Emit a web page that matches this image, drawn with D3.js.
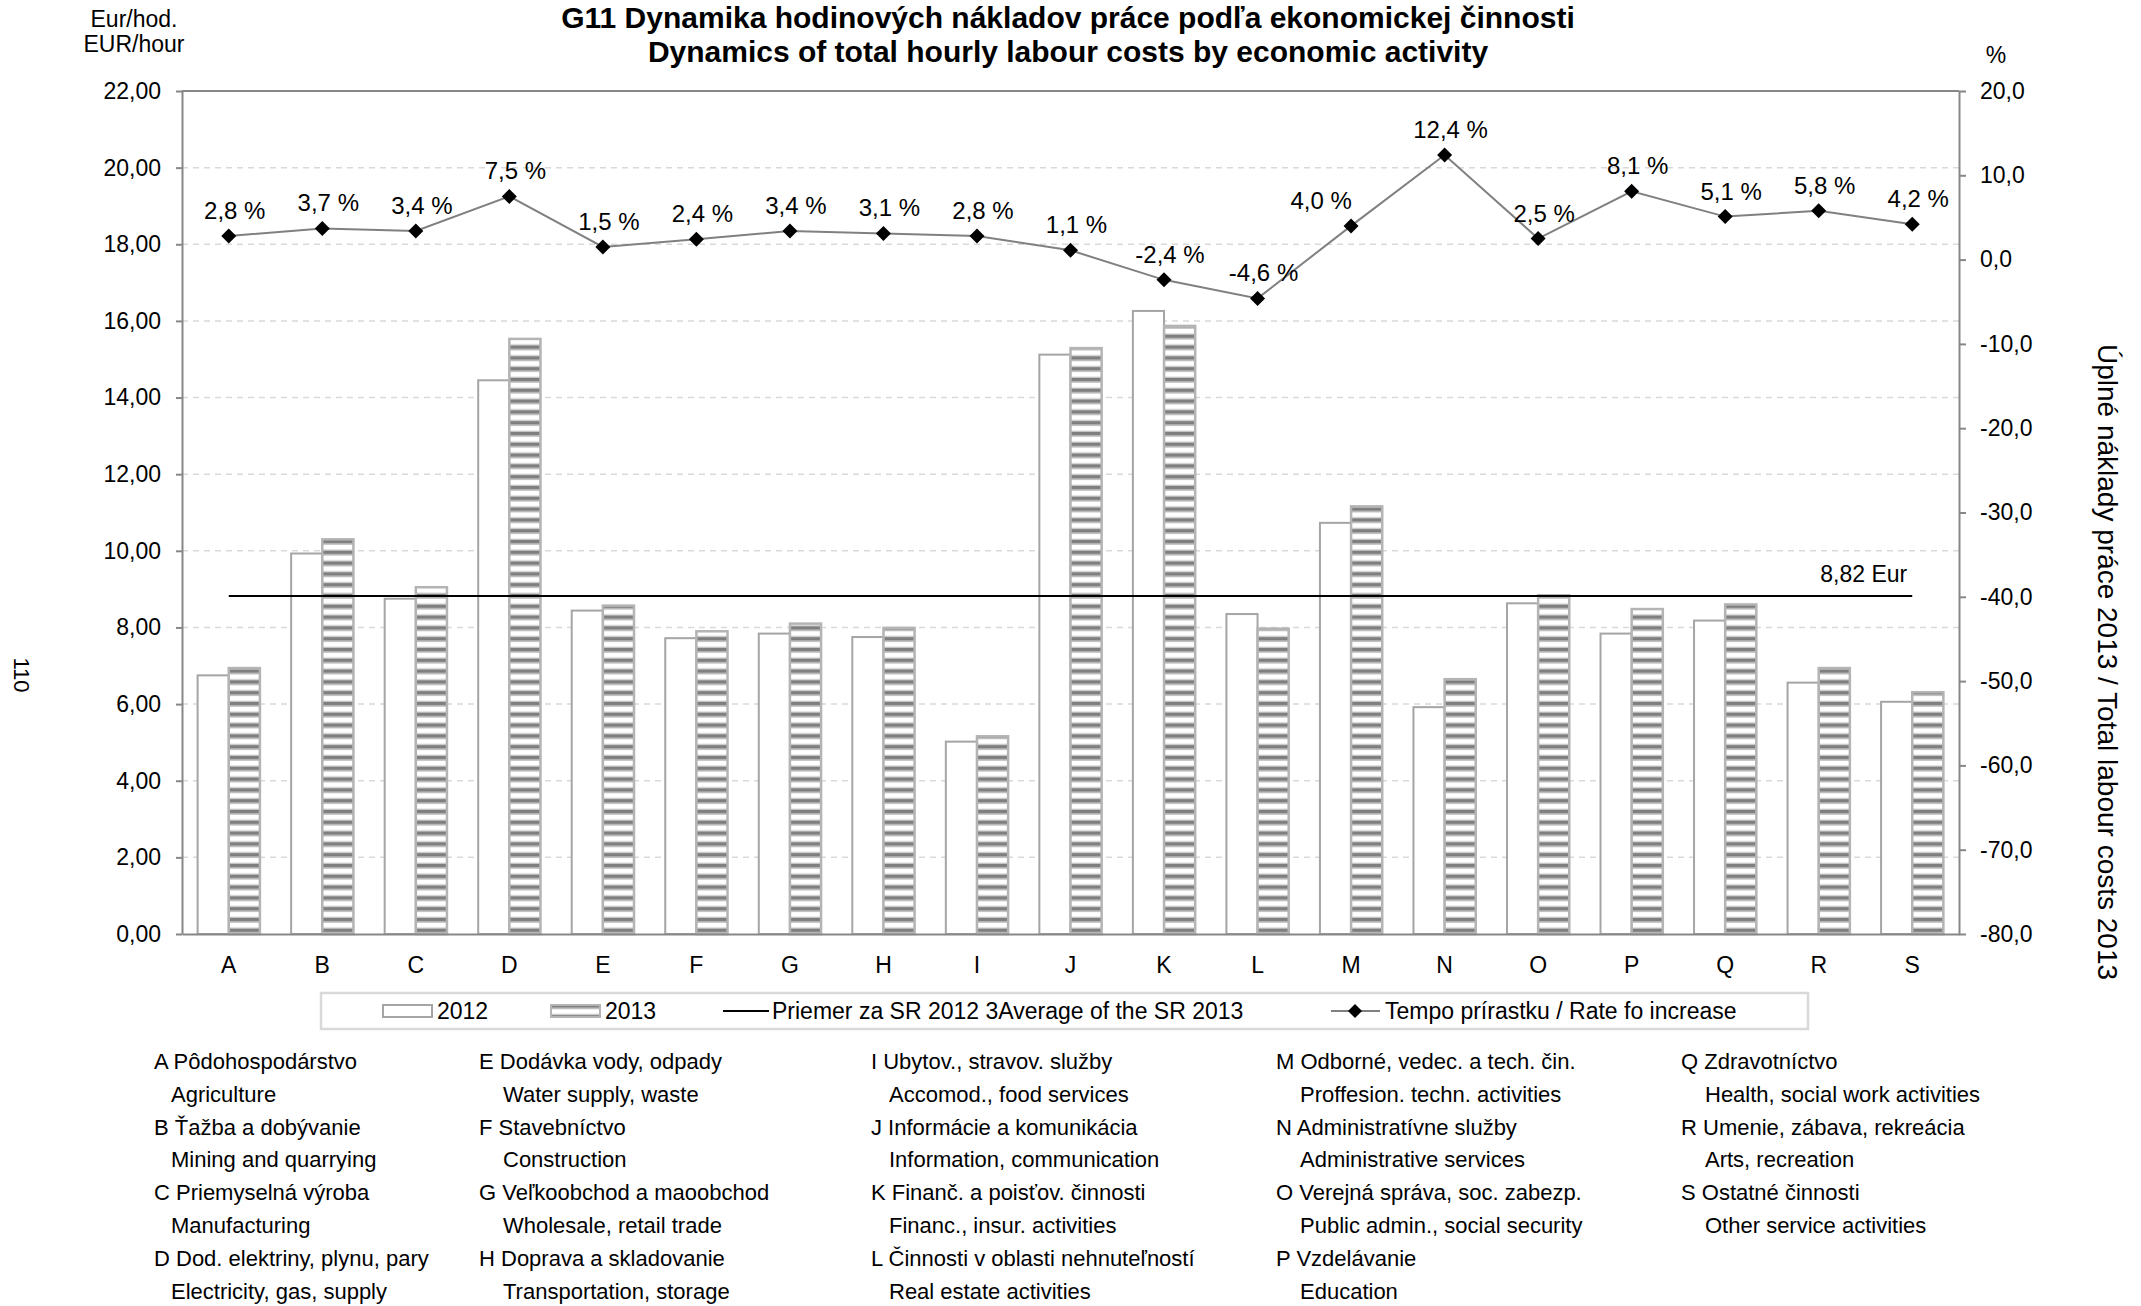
<!DOCTYPE html>
<html>
<head>
<meta charset="utf-8">
<script src="https://cdn.jsdelivr.net/npm/d3@7"></script>
<style>
  html, body { margin: 0; padding: 0; background: #fff; }
  svg { display: block; font-family: "Liberation Sans", Arial, sans-serif; }
</style>
</head>
<body>
<svg id="chart" width="2141" height="1306"></svg>
<script>
// ---------------- DATA ----------------
const categories = ["A","B","C","D","E","F","G","H","I","J","K","L","M","N","O","P","Q","R","S"];
const cost2012 = [6.75, 9.93, 8.75, 14.45, 8.44, 7.72, 7.84, 7.75, 5.02, 15.12, 16.26, 8.35, 10.73, 5.92, 8.63, 7.84, 8.18, 6.56, 6.06];
const cost2013 = [6.94, 10.30, 9.05, 15.53, 8.57, 7.90, 8.10, 7.99, 5.16, 15.29, 15.87, 7.97, 11.16, 6.65, 8.84, 8.48, 8.60, 6.94, 6.31];
const growthRate = [2.8, 3.7, 3.4, 7.5, 1.5, 2.4, 3.4, 3.1, 2.8, 1.1, -2.4, -4.6, 4.0, 12.4, 2.5, 8.1, 5.1, 5.8, 4.2];
const averageSR = 8.82;
const leftTicks = [0, 2, 4, 6, 8, 10, 12, 14, 16, 18, 20, 22];
const rightTicks = [-80, -70, -60, -50, -40, -30, -20, -10, 0, 10, 20];
const titleLines = ["G11 Dynamika hodinových nákladov práce podľa ekonomickej  činnosti",
                    "Dynamics of total hourly labour costs by economic activity"];
const legendLabels = ["2012", "2013", "Priemer za SR 2012 3Average of the SR 2013", "Tempo prírastku / Rate fo increase"];
const notesSk = ["Pôdohospodárstvo","Ťažba a dobývanie","Priemyselná výroba","Dod. elektriny, plynu, pary",
  "Dodávka vody, odpady","Stavebníctvo","Veľkoobchod a maoobchod","Doprava a skladovanie",
  "Ubytov., stravov. služby","Informácie a komunikácia","Finanč. a poisťov. činnosti","Činnosti v oblasti nehnuteľností",
  "Odborné, vedec. a tech. čin.","Administratívne služby","Verejná správa, soc. zabezp.","Vzdelávanie",
  "Zdravotníctvo","Umenie, zábava, rekreácia","Ostatné činnosti"];
const notesEn = ["Agriculture","Mining and quarrying","Manufacturing","Electricity, gas, supply",
  "Water supply, waste","Construction","Wholesale, retail trade","Transportation, storage",
  "Accomod., food services","Information, communication","Financ., insur. activities","Real estate activities",
  "Proffesion. techn. activities","Administrative services","Public admin., social security","Education",
  "Health, social work activities","Arts, recreation","Other service activities"];

// ---------------- LAYOUT ----------------
const L = 182, R = 1959, T = 91, B = 934;
const svg = d3.select("#chart");
const fmt2 = d => d3.format(".2f")(d).replace(".", ",").replace("\u2212", "-");
const fmt1 = d => d3.format(".1f")(d).replace(".", ",").replace("\u2212", "-");
const AXIS = "#878787";

const x = d3.scaleBand().domain(categories).range([L, R]).padding(0);
const yL = d3.scaleLinear().domain([0, 22]).range([B, T]);
const yR = d3.scaleLinear().domain([-80, 20]).range([B, T]);
const barW = x.bandwidth() * 0.333;

// pattern
const defs = svg.append("defs");
const pat = defs.append("pattern").attr("id", "stripes").attr("patternUnits", "userSpaceOnUse")
  .attr("width", 20).attr("height", 10.8);
pat.append("rect").attr("width", 20).attr("height", 10.8).attr("fill", "#ffffff");
pat.append("rect").attr("y", 0).attr("width", 20).attr("height", 3.6).attr("fill", "#7f7f7f");
pat.append("rect").attr("y", 3.6).attr("width", 20).attr("height", 1.3).attr("fill", "#c4c4c4");
pat.append("rect").attr("y", 9.5).attr("width", 20).attr("height", 1.3).attr("fill", "#c4c4c4");

// gridlines
svg.append("g").selectAll("line").data(leftTicks.filter(d => d > 0 && d < 22)).join("line")
  .attr("x1", L).attr("x2", R).attr("y1", d => yL(d)).attr("y2", d => yL(d))
  .attr("stroke", "#d9d9d9").attr("stroke-width", 1.5).attr("stroke-dasharray", "6,5");

// bars
const bars = svg.append("g");
bars.selectAll("rect.b12").data(categories).join("rect").attr("class", "b12")
  .attr("x", (d) => x(d) + x.bandwidth() / 2 - barW)
  .attr("y", (d, i) => yL(cost2012[i]))
  .attr("width", barW).attr("height", (d, i) => B - yL(cost2012[i]))
  .attr("fill", "#fff").attr("stroke", "#a5a5a5").attr("stroke-width", 2);
bars.selectAll("rect.b13").data(categories).join("rect").attr("class", "b13")
  .attr("x", (d) => x(d) + x.bandwidth() / 2)
  .attr("y", (d, i) => yL(cost2013[i]))
  .attr("width", barW).attr("height", (d, i) => B - yL(cost2013[i]))
  .attr("fill", "url(#stripes)").attr("stroke", "#b4b4b4").attr("stroke-width", 2.5);

// frame (top border)
svg.append("line").attr("x1", L).attr("x2", R).attr("y1", T).attr("y2", T)
  .attr("stroke", AXIS).attr("stroke-width", 2);

// axes
const axL = svg.append("g").attr("transform", `translate(${L},0)`)
  .call(d3.axisLeft(yL).tickValues(leftTicks).tickFormat(fmt2).tickSize(6).tickSizeOuter(0).tickPadding(15));
const axR = svg.append("g").attr("transform", `translate(${R},0)`)
  .call(d3.axisRight(yR).tickValues(rightTicks).tickFormat(fmt1).tickSize(7).tickSizeOuter(0).tickPadding(14));
const axB = svg.append("g").attr("transform", `translate(0,${B})`)
  .call(d3.axisBottom(x).tickSize(0).tickSizeOuter(0).tickPadding(23));
[axL, axR, axB].forEach(g => {
  g.select(".domain").attr("stroke", AXIS).attr("stroke-width", 2);
  g.selectAll(".tick line").attr("stroke", AXIS).attr("stroke-width", 2);
  g.selectAll("text").attr("font-size", 23).attr("fill", "#000").attr("font-family", "Liberation Sans, Arial, sans-serif");
});

// average line
const cx = d => x(d) + x.bandwidth() / 2;
svg.append("line").attr("x1", cx(categories[0])).attr("x2", cx(categories[categories.length - 1]))
  .attr("y1", yL(averageSR)).attr("y2", yL(averageSR)).attr("stroke", "#000").attr("stroke-width", 2);
svg.append("text").attr("x", cx(categories[categories.length - 1]) - 5).attr("y", yL(averageSR) - 14)
  .attr("text-anchor", "end").attr("font-size", 23).text(fmt2(averageSR) + " Eur");

// rate line
const line = d3.line().x((d, i) => cx(categories[i])).y(d => yR(d));
svg.append("path").datum(growthRate).attr("d", line).attr("fill", "none")
  .attr("stroke", "#808080").attr("stroke-width", 2);
const diamond = (px, py, r) => `M${px},${py - r}L${px + r},${py}L${px},${py + r}L${px - r},${py}Z`;
svg.append("g").selectAll("path").data(growthRate).join("path")
  .attr("d", (d, i) => diamond(cx(categories[i]), yR(d), 7.5)).attr("fill", "#000");
svg.append("g").selectAll("text").data(growthRate).join("text")
  .attr("x", (d, i) => cx(categories[i]) + (categories[i] === "M" ? -30 : 6))
  .attr("y", d => yR(d) - 17)
  .attr("text-anchor", "middle").attr("font-size", 24)
  .text(d => fmt1(d) + " %");

// titles
svg.append("g").selectAll("text").data(titleLines).join("text")
  .attr("x", 1068).attr("y", (d, i) => 28 + i * 34)
  .attr("text-anchor", "middle").attr("font-size", 30).attr("font-weight", "bold").text(d => d);
svg.append("text").attr("x", 134).attr("y", 27).attr("text-anchor", "middle").attr("font-size", 23).text("Eur/hod.");
svg.append("text").attr("x", 134).attr("y", 52).attr("text-anchor", "middle").attr("font-size", 23).text("EUR/hour");
svg.append("text").attr("x", 1996).attr("y", 63).attr("text-anchor", "middle").attr("font-size", 23).text("%");
svg.append("text").attr("transform", "translate(2105,662) rotate(90)").attr("text-anchor", "middle")
  .attr("dominant-baseline", "middle").attr("font-size", 28).text("Úplné náklady práce 2013 / Total labour costs 2013");
svg.append("text").attr("transform", "translate(20,675) rotate(90)").attr("text-anchor", "middle")
  .attr("dominant-baseline", "middle").attr("font-size", 22).text("110");

// legend
const lg = svg.append("g");
lg.append("rect").attr("x", 321).attr("y", 993).attr("width", 1487).attr("height", 36)
  .attr("fill", "#fff").attr("stroke", "#d9d9d9").attr("stroke-width", 2.5);
lg.append("rect").attr("x", 383).attr("y", 1005).attr("width", 49).attr("height", 12)
  .attr("fill", "#fff").attr("stroke", "#a5a5a5").attr("stroke-width", 2);
lg.append("rect").attr("x", 551).attr("y", 1005).attr("width", 49).attr("height", 12)
  .attr("fill", "url(#stripes)").attr("stroke", "#b4b4b4").attr("stroke-width", 2);
lg.append("line").attr("x1", 723).attr("x2", 769).attr("y1", 1011).attr("y2", 1011).attr("stroke", "#000").attr("stroke-width", 2);
lg.append("line").attr("x1", 1331).attr("x2", 1380).attr("y1", 1011).attr("y2", 1011).attr("stroke", "#808080").attr("stroke-width", 2);
lg.append("path").attr("d", diamond(1355, 1011, 7)).attr("fill", "#000");
const lgX = [437, 605, 772, 1385];
lg.selectAll("text").data(legendLabels).join("text")
  .attr("x", (d, i) => lgX[i]).attr("y", 1019).attr("font-size", 23).text(d => d);

// category notes
const colX = [154, 479, 871, 1276, 1681];
const colIndent = [17, 24, 18, 24, 24];
const notes = svg.append("g").attr("font-size", 22);
categories.forEach((c, i) => {
  const col = Math.floor(i / 4), row = i % 4;
  const y0 = 1069 + row * 2 * 32.8;
  notes.append("text").attr("x", colX[col]).attr("y", y0).text(c + " " + notesSk[i]);
  notes.append("text").attr("x", colX[col] + colIndent[col]).attr("y", y0 + 32.8).text(notesEn[i]);
});
</script>
</body>
</html>
